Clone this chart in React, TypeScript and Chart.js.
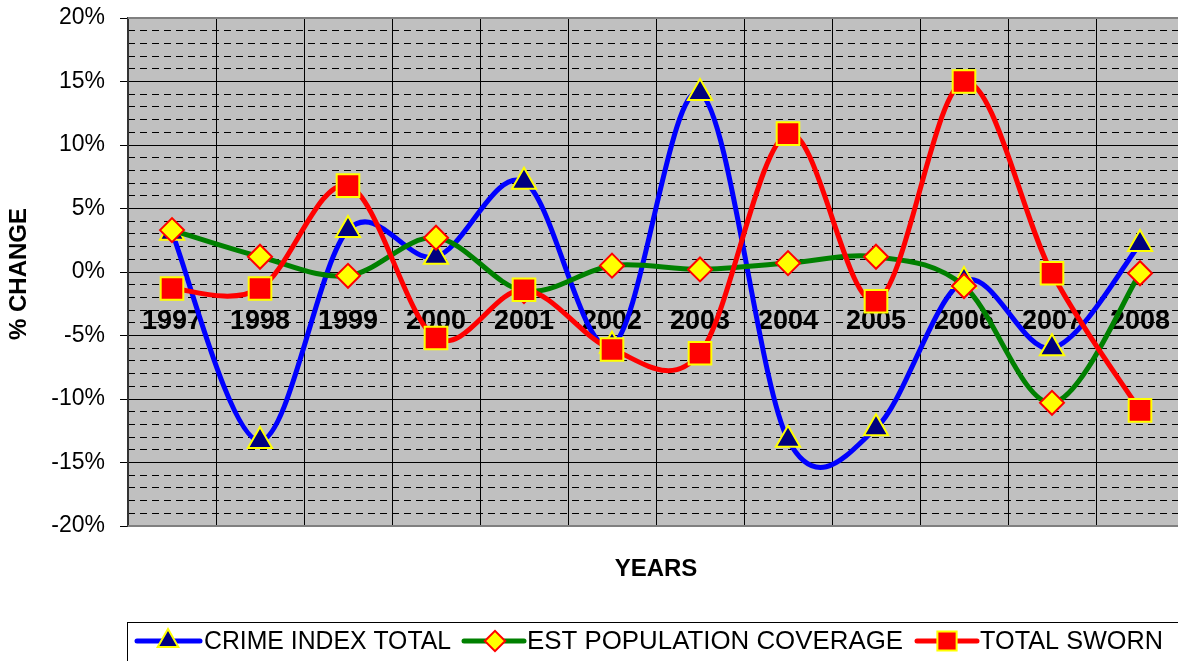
import React, { useEffect, useRef } from 'react';
import { Chart, registerables } from 'chart.js';

Chart.register(...registerables);

const years = ['1997', '1998', '1999', '2000', '2001', '2002', '2003', '2004', '2005', '2006', '2007', '2008'];
const crimeIndexTotal = [3.1, -13.3, 3.3, 1.2, 7.1, -5.8, 14.1, -13.2, -12.3, -0.7, -6.0, 2.2];
const estPopulationCoverage = [3.3, 1.2, -0.3, 2.7, -1.5, 0.5, 0.2, 0.7, 1.2, -1.1, -10.3, -0.1];
const totalSworn = [-1.3, -1.3, 6.8, -5.2, -1.4, -6.1, -6.4, 10.9, -2.3, 15.0, -0.1, -10.9];
const seriesLabels = ['CRIME INDEX TOTAL', 'EST POPULATION COVERAGE', 'TOTAL SWORN'];
const yAxisTitle = '% CHANGE';
const xAxisTitle = 'YEARS';

const FONT = '"Liberation Sans", Arial, Helvetica, sans-serif';

// where the plot area sits in the reference
const AREA = { left: 128, top: 18, right: 1184, bottom: 526 };

function drawMarker(ctx: CanvasRenderingContext2D, style: string, x: number, y: number, r: number, fill: string, stroke: string, bw: number) {
  ctx.save();
  ctx.beginPath();
  if (style === 'triangle') {
    ctx.moveTo(x, y - r);
    ctx.lineTo(x + r * Math.sin(Math.PI * 2 / 3), y + r / 2);
    ctx.lineTo(x - r * Math.sin(Math.PI * 2 / 3), y + r / 2);
    ctx.closePath();
  } else if (style === 'rectRot') {
    ctx.moveTo(x - r, y);
    ctx.lineTo(x, y - r);
    ctx.lineTo(x + r, y);
    ctx.lineTo(x, y + r);
    ctx.closePath();
  } else {
    const s = Math.SQRT1_2 * r;
    ctx.rect(x - s, y - s, 2 * s, 2 * s);
  }
  ctx.fillStyle = fill;
  ctx.fill();
  ctx.lineWidth = bw;
  ctx.strokeStyle = stroke;
  ctx.stroke();
  ctx.restore();
}

const excelPlugin = {
  id: 'excelLook',
  beforeDraw(chart: any) {
    const { ctx, chartArea: a } = chart;
    ctx.save();
    ctx.fillStyle = '#ffffff';
    ctx.fillRect(0, 0, chart.width, chart.height);
    ctx.fillStyle = '#C0C0C0';
    ctx.fillRect(a.left, a.top, a.right - a.left, a.bottom - a.top);
    ctx.restore();
  },
  beforeDatasetsDraw(chart: any) {
    const { ctx, chartArea: a, scales } = chart;
    ctx.save();
    ctx.strokeStyle = '#808080';
    ctx.lineWidth = 2;
    ctx.beginPath();
    ctx.moveTo(a.left, a.top);
    ctx.lineTo(a.right, a.top);
    ctx.moveTo(a.left, a.bottom);
    ctx.lineTo(a.right, a.bottom);
    ctx.stroke();
    const y0 = scales.y.getPixelForValue(0);
    ctx.font = `bold 27px ${FONT}`;
    ctx.fillStyle = '#000';
    ctx.textAlign = 'center';
    ctx.textBaseline = 'middle';
    years.forEach((yr, i) => {
      ctx.fillText(yr, scales.x.getPixelForValue(i), y0 + 50);
    });
    ctx.restore();
  },
  beforeDatasetDraw(chart: any, args: any) {
    const meta = args.meta;
    const line = meta.dataset;
    if (!line) return;
    line.updateControlPoints(chart.chartArea, 'x');
    const pts = meta.data;
    for (let i = 0; i < pts.length; i++) {
      const p = pts[i];
      const prev = pts[i - 1] || p;
      const next = pts[i + 1] || p;
      const dx = (next.x - prev.x) / 6;
      const dy = (next.y - prev.y) / 6;
      p.cp1x = p.x - dx;
      p.cp1y = p.y - dy;
      p.cp2x = p.x + dx;
      p.cp2y = p.y + dy;
    }
  },
  afterDraw(chart: any) {
    const { ctx } = chart;
    ctx.save();
    ctx.fillStyle = '#000';
    ctx.textAlign = 'center';
    ctx.textBaseline = 'middle';
    ctx.font = `bold 24px ${FONT}`;
    ctx.fillText(xAxisTitle, 656, 569);
    ctx.save();
    ctx.translate(19, 274);
    ctx.rotate(-Math.PI / 2);
    ctx.font = `bold 24px ${FONT}`;
    ctx.fillText(yAxisTitle, 0, 0);
    ctx.restore();

    // legend box
    ctx.strokeStyle = '#000';
    ctx.lineWidth = 1;
    ctx.strokeRect(127.5, 622.5, 1100, 60);
    const ly = 641;
    const items = [
      { lineFrom: 137, lineTo: 200, mx: 168, tx: 204, tw: 247 },
      { lineFrom: 464, lineTo: 524, mx: 495, tx: 527, tw: 376 },
      { lineFrom: 917, lineTo: 977, mx: 947, tx: 980, tw: 183 },
    ];
    chart.data.datasets.forEach((ds: any, i: number) => {
      const it = items[i];
      ctx.beginPath();
      ctx.strokeStyle = ds.borderColor;
      ctx.lineWidth = 5;
      ctx.lineCap = 'round';
      ctx.moveTo(it.lineFrom, ly);
      ctx.lineTo(it.lineTo, ly);
      ctx.stroke();
      drawMarker(ctx, ds.pointStyle, it.mx, ly, ds.pointRadius * 0.85, ds.pointBackgroundColor, ds.pointBorderColor, ds.pointBorderWidth);
      ctx.fillStyle = '#000';
      ctx.textAlign = 'left';
      ctx.font = `26px ${FONT}`;
      ctx.fillText(ds.label, it.tx, ly + 1, it.tw);
    });
    ctx.restore();
  },
};

export default function App() {
  const canvasRef = useRef<HTMLCanvasElement | null>(null);

  useEffect(() => {
    const canvas = canvasRef.current;
    if (!canvas) return;
    const padding = { left: 0, top: 18, right: 6, bottom: 135 };
    const chart = new Chart(canvas, {
      type: 'line',
      data: {
        labels: years,
        datasets: [
          {
            label: seriesLabels[0],
            data: crimeIndexTotal,
            borderColor: '#0000FF',
            backgroundColor: '#0000FF',
            pointStyle: 'triangle',
            pointRadius: 14,
            pointBackgroundColor: '#000080',
            pointBorderColor: '#FFFF00',
            pointBorderWidth: 2,
            order: 2,
            fill: false,
          },
          {
            label: seriesLabels[1],
            data: estPopulationCoverage,
            borderColor: '#008000',
            backgroundColor: '#008000',
            pointStyle: 'rectRot',
            pointRadius: 12,
            pointBackgroundColor: '#FFFF00',
            pointBorderColor: '#FF0000',
            pointBorderWidth: 2,
            order: 1,
            fill: false,
          },
          {
            label: seriesLabels[2],
            data: totalSworn,
            borderColor: '#FF0000',
            backgroundColor: '#FF0000',
            pointStyle: 'rect',
            pointRadius: 16,
            pointBackgroundColor: '#FF0000',
            pointBorderColor: '#FFFF00',
            pointBorderWidth: 2,
            order: 0,
            fill: false,
          },
        ] as any,
      },
      options: {
        responsive: false,
        animation: false,
        events: [],
        layout: { autoPadding: false, padding },
        elements: {
          line: { borderWidth: 5, tension: 0.4, capBezierPoints: false, borderCapStyle: 'round', borderJoinStyle: 'round' },
        },
        plugins: { legend: { display: false }, tooltip: { enabled: false }, title: { display: false } },
        scales: {
          x: {
            type: 'category',
            offset: true,
            grid: { offset: true, color: '#000', lineWidth: 1, drawTicks: false },
            ticks: { display: false },
            border: { display: false },
            afterFit: (s: any) => { s.height = 0; s.paddingLeft = 0; s.paddingRight = 0; },
          },
          y: {
            type: 'linear',
            position: 'left',
            min: -20,
            max: 20,
            ticks: {
              stepSize: 5,
              color: '#000',
              padding: 15,
              font: { family: FONT, size: 23 },
              callback: (v: any) => `${v}%`,
            },
            grid: { color: '#000', lineWidth: 1, tickLength: 8, tickColor: '#000', drawTicks: true },
            border: { display: true, color: '#333', width: 2 },
            afterFit: (s: any) => { s.width = 128; s.paddingTop = 0; s.paddingBottom = 0; },
          },
          y2: {
            type: 'linear',
            position: 'left',
            min: -20,
            max: 20,
            ticks: { stepSize: 1, display: false, maxTicksLimit: 100 },
            grid: {
              color: '#000',
              lineWidth: (c: any) => (c.tick && Math.round(c.tick.value) % 5 === 0 ? 0 : 1),
              drawTicks: false,
            },
            border: { display: false, dash: [7, 5] },
            afterFit: (s: any) => { s.width = 0; s.paddingTop = 0; s.paddingBottom = 0; },
          },
        } as any,
      },
      plugins: [excelPlugin as any],
    });

    // nudge the layout padding until the plot area matches the reference
    for (let k = 0; k < 4; k++) {
      const a = chart.chartArea;
      const dTop = a.top - AREA.top;
      const dBottom = AREA.bottom - a.bottom;
      const dRight = AREA.right - a.right;
      const dLeft = a.left - AREA.left;
      if (Math.abs(dTop) < 0.5 && Math.abs(dBottom) < 0.5 && Math.abs(dRight) < 0.5 && Math.abs(dLeft) < 0.5) break;
      padding.top -= dTop;
      padding.bottom -= dBottom;
      padding.right -= dRight;
      padding.left -= dLeft;
      (chart as any).config.options.layout.padding = { ...padding };
      chart.update();
    }
    return () => chart.destroy();
  }, []);

  return (
    <div style={{ position: 'fixed', left: 0, top: 0, width: 1178, height: 661, overflow: 'hidden', background: '#fff' }}>
      <canvas ref={canvasRef} width={1190} height={661} style={{ display: 'block', width: 1190, height: 661 }} />
    </div>
  );
}
